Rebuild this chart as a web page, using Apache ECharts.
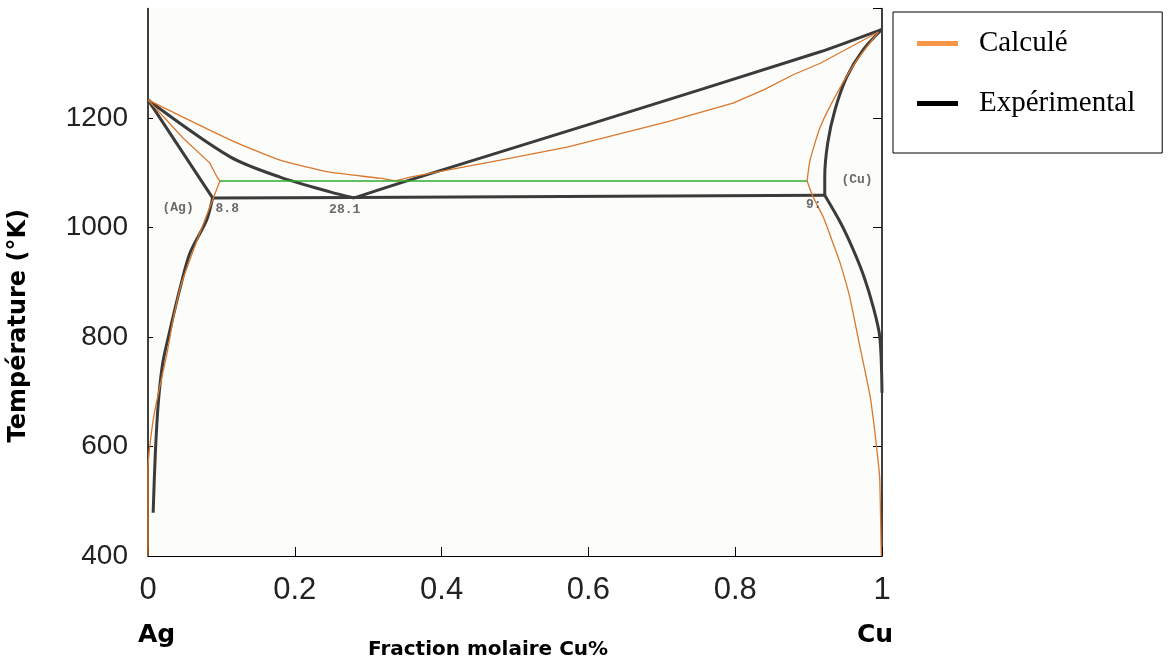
<!DOCTYPE html>
<html>
<head>
<meta charset="utf-8">
<script src="https://cdn.jsdelivr.net/npm/echarts@6/dist/echarts.min.js"></script>
<style>
html,body{margin:0;padding:0;background:#fff;}
#chart{width:1171px;height:666px;}
</style>
</head>
<body>
<div id="chart"></div>
<script>
// ---- Data (x = fraction molaire Cu, y = température en K) ----
const xTickValues = [0, 0.2, 0.4, 0.6, 0.8, 1];
const yTickValues = [400, 600, 800, 1000, 1200];

// Expérimental
const expAgLiquidus = [[0,1233],[0.112,1129],[0.180,1092],[0.248,1065],[0.281,1054]];
const expAgSolidus  = [[0,1233],[0.088,1054]];
const expAgSolvus   = [[0.088,1054],[0.080,1014],[0.057,953],[0.044,891],[0.030,813],[0.020,752],[0.014,679],[0.010,588],[0.007,479]];
const expEutectic   = [[0.088,1054],[0.281,1055],[0.922,1059]];
const expCuLiquidus = [[0.281,1054],[0.343,1081],[0.600,1188],[0.916,1321],[1.0,1362]];
const expCuSolidus  = [[1.0,1362],[0.974,1324],[0.952,1275],[0.936,1215],[0.926,1154],[0.922,1092],[0.922,1059]];
const expCuSolvus   = [[0.922,1059],[0.943,1010],[0.960,962],[0.975,912],[0.988,855],[0.997,800],[1.0,698]];

// Calculé
const calAgLiquidus = [[0,1233],[0.112,1160],[0.180,1123],[0.248,1101],[0.316,1090],[0.337,1085]];
const calAgSolidus  = [[0,1233],[0.048,1163],[0.084,1118],[0.095,1090],[0.098,1085]];
const calAgSolvus   = [[0.098,1085],[0.067,977],[0.045,895],[0.034,830],[0.026,771],[0.016,709],[0.007,648],[0.0,557],[0.0,400]];
const calCuLiquidus = [[0.337,1085],[0.357,1092],[0.480,1123],[0.571,1147],[0.707,1193],[0.797,1227],[0.838,1251],[0.879,1279],[0.916,1300],[0.995,1357]];
const calCuSolidus  = [[0.995,1357],[0.966,1306],[0.939,1246],[0.916,1184],[0.902,1123],[0.898,1085]];
const calCuSolvus   = [[0.898,1085],[0.906,1056],[0.920,1019],[0.933,972],[0.943,935],[0.956,873],[0.970,782],[0.984,690],[0.990,630],[0.995,570],[0.997,539],[0.999,400]];
const calEutectic   = [[0.098,1085],[0.898,1085]];

// Annotations from the original diagram
const annotations = [
  {name:'(Ag)', value:[0.041,1037]},
  {name:'8.8',  value:[0.108,1034]},
  {name:'28.1', value:[0.268,1032]},
  {name:'9:',   value:[0.907,1041]},
  {name:'(Cu)', value:[0.966,1087]}
];

const legendNames = ['Calculé','Expérimental'];

// ---- Chart ----
const chart = echarts.init(document.getElementById('chart'), null, {renderer:'canvas'});

const BLACK = '#3b3b3b';
const ORANGE = '#d9782c';
const GREEN = '#2eae2e';

function expSeries(data, smooth){
  return {name:legendNames[1], type:'line', data:data, showSymbol:false, symbol:'none',
    smooth:smooth||false, color:'#000',
    lineStyle:{color:BLACK, width:3}, z:3, silent:true};
}
function calSeries(data, smooth){
  return {name:legendNames[0], type:'line', data:data, showSymbol:false, symbol:'none',
    smooth:smooth||false, color:'#f79646',
    lineStyle:{color:ORANGE, width:1.3}, z:4, silent:true};
}

const option = {
  backgroundColor:'#ffffff',
  animation:false,
  grid:{left:148, right:289, top:8.5, bottom:110, show:true, backgroundColor:'#fcfcfa', borderWidth:0},
  legend:{
    orient:'vertical', left:893, top:12,
    padding:[17,27,35,24], itemGap:31, itemWidth:41, itemHeight:5, icon:'rect',
    borderColor:'#000', borderWidth:1, backgroundColor:'#fff',
    textStyle:{fontFamily:'Liberation Serif', fontSize:29, color:'#000', padding:[0,0,0,16]},
    data:[{name:legendNames[0], itemStyle:{color:'#f79646'}},{name:legendNames[1], itemStyle:{color:'#000'}}]
  },
  xAxis:{
    type:'value', min:0, max:1, interval:0.2,
    axisLine:{show:true, lineStyle:{color:'#000', width:1.2}},
    axisTick:{show:true, inside:true, length:9, lineStyle:{color:'#000'}},
    axisLabel:{margin:19, fontFamily:'Liberation Sans', fontSize:31, color:'#222',
      formatter:function(v){return xTickValues.indexOf(+v.toFixed(1))>=0 ? String(+v.toFixed(1)) : '';}},
    splitLine:{show:false}
  },
  yAxis:[{
    type:'value', min:400, max:1400, interval:200,
    axisLine:{show:true, lineStyle:{color:'#000', width:1.5}},
    axisTick:{show:true, inside:true, length:5, lineStyle:{color:'#000'}},
    axisLabel:{margin:20, fontFamily:'Liberation Sans', fontSize:28, color:'#222', showMaxLabel:false,
      formatter:function(v){return yTickValues.indexOf(v)>=0 ? String(v) : '';}},
    splitLine:{show:false}
  },{
    type:'value', min:400, max:1400, interval:200, position:'right',
    axisLine:{show:true, lineStyle:{color:'#000', width:1.5}},
    axisTick:{show:true, inside:true, length:9, lineStyle:{color:'#000'}},
    axisLabel:{show:false}, splitLine:{show:false}
  }],
  graphic:[
    {type:'text', left:7, top:209, rotation:Math.PI/2, style:{text:'Température (°K)', fontFamily:'DejaVu Sans', fontWeight:'bold', fontSize:24, fill:'#000'}},
    {type:'text', style:{text:'Ag', x:138, y:623, fontFamily:'DejaVu Sans', fontWeight:'bold', fontSize:25, fill:'#000'}},
    {type:'text', style:{text:'Cu', x:857, y:623, fontFamily:'DejaVu Sans', fontWeight:'bold', fontSize:25, fill:'#000'}},
    {type:'text', style:{text:'Fraction molaire Cu%', x:368, y:640, fontFamily:'DejaVu Sans', fontWeight:'bold', fontSize:20, fill:'#000'}}
  ],
  series:[
    expSeries(expAgLiquidus, 0.3),
    expSeries(expAgSolidus),
    expSeries(expAgSolvus, 0.3),
    expSeries(expEutectic),
    expSeries(expCuLiquidus, 0.2),
    expSeries(expCuSolidus, 0.3),
    expSeries(expCuSolvus, 0.3),
    {name:'Eutectique calculé', type:'line', data:calEutectic, showSymbol:false, symbol:'none',
      lineStyle:{color:GREEN, width:1.6}, z:5, silent:true},
    calSeries(calAgLiquidus, 0.2),
    calSeries(calAgSolidus),
    calSeries(calAgSolvus, 0.2),
    calSeries(calCuLiquidus),
    calSeries(calCuSolidus, 0.2),
    calSeries(calCuSolvus, 0.2),
    {name:'annotations', type:'scatter', data:annotations, symbolSize:0, silent:true, z:6,
      label:{show:true, position:'inside', formatter:function(p){return p.name;},
        fontFamily:'Liberation Mono', fontWeight:'bold', fontSize:13, color:'#444'}}
  ]
};
chart.setOption(option);
</script>
</body>
</html>
